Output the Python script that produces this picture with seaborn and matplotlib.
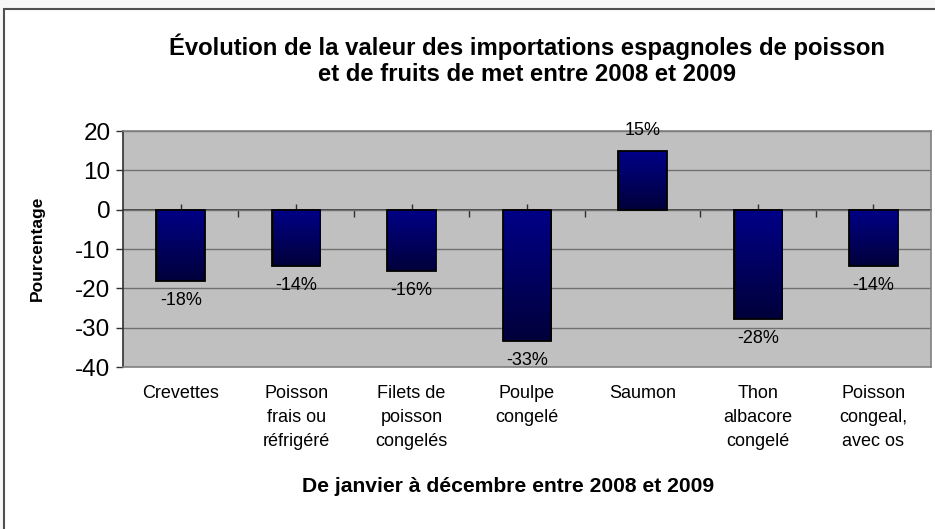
import numpy as np
import pandas as pd
import matplotlib
matplotlib.use("Agg")
import matplotlib.pyplot as plt
import seaborn as sns
from matplotlib.colors import LinearSegmentedColormap
from matplotlib.patches import Rectangle

categories = ["Crevettes", "Poisson\nfrais ou\nréfrigéré", "Filets de\npoisson\ncongelés",
              "Poulpe\ncongelé", "Saumon", "Thon\nalbacore\ncongelé", "Poisson\ncongeal,\navec os"]
values = [-18.2, -14.4, -15.6, -33.4, 14.8, -27.8, -14.3]
yticks = [20, 10, 0, -10, -20, -30, -40]

title = "Évolution de la valeur des importations espagnoles de poisson\net de fruits de met entre 2008 et 2009"
xlabel = "De janvier à décembre entre 2008 et 2009"
ylabel = "Pourcentage"

sns.set_theme(style="white")
plt.rcParams['font.family'] = ['Liberation Sans', 'DejaVu Sans']
plt.rcParams['text.color'] = 'black'
plt.rcParams['xtick.labelcolor'] = 'black'
plt.rcParams['ytick.labelcolor'] = 'black'

df = pd.DataFrame({"cat": categories, "val": values})

W, H = 935, 529
fig = plt.figure(figsize=(W / 100, H / 100), dpi=100)
fig.patch.set_facecolor("#f7f7f7")
frame = Rectangle((4 / W, -0.1), 1.2, (H - 9) / H + 0.1, transform=fig.transFigure,
                  facecolor="white", edgecolor="#505050", linewidth=1.5, zorder=-10)
fig.patches.append(frame)

ax = fig.add_axes([123 / W, (H - 367) / H, 808 / W, 236 / H])
ax.set_zorder(1)
ax.set_facecolor("#c0c0c0")

sns.barplot(data=df, x="cat", y="val", ax=ax, width=0.42, color="#000080",
            edgecolor="black", linewidth=1.3, zorder=3)

ax.set_yticks(yticks)
ax.set_yticklabels([str(t) for t in yticks], fontsize=17.5, color="black")
for t in yticks:
    ax.axhline(t, color="#707070", lw=1, zorder=1)

# gradient fill on bars
cmap = LinearSegmentedColormap.from_list("navy", ["#00003a", "#000088"])
grad = np.linspace(0, 1, 256).reshape(-1, 1)
for p in list(ax.patches):
    x0, y0 = p.get_x(), p.get_y()
    w, h = p.get_width(), p.get_height()
    ylo, yhi = min(y0, y0 + h), max(y0, y0 + h)
    im = ax.imshow(grad, cmap=cmap, aspect="auto", origin="lower",
                   extent=[x0, x0 + w, ylo, yhi], zorder=3.5)
    im.set_clip_path(p)
    p.set_zorder(4)
    p.set_facecolor("none")
ax.set_aspect("auto")
ax.set_xlim(-0.5, len(categories) - 0.5)
ax.set_ylim(-40, 20)

# data labels
for i, v in enumerate(values):
    off = 5.3 if v > 0 else -5.0
    ax.text(i, v + off, f"{v:.0f}%", ha="center", va="center", fontsize=13, color="black", zorder=5)

ax.set_xlabel("")
ax.set_ylabel("")
ax.set_xticks(range(len(categories)))
ax.set_xticklabels(categories, fontsize=13, linespacing=1.55, va="top", color="black")
ax.tick_params(axis="x", length=0, pad=13)
ax.tick_params(axis="y", length=5, width=1, color="#303030", direction="out", pad=4, left=True)

for s in ["top", "right", "bottom"]:
    ax.spines[s].set_color("#808080")
    ax.spines[s].set_linewidth(1.2)
ax.spines["left"].set_color("#303030")
ax.spines["left"].set_linewidth(1.2)

# category axis at y = 0
sec = ax.secondary_xaxis(0, transform=ax.transData)
sec.set_xticks([i + 0.5 for i in range(len(categories) - 1)])
sec.set_xticklabels([])
sec.set_xticks(range(len(categories)), minor=True)
sec.tick_params(axis="x", which="major", length=5, width=1, color="#303030", direction="out")
sec.tick_params(axis="x", which="minor", length=4, width=1, color="#303030", direction="in")
sec.spines["bottom"].set_color("#303030")
sec.spines["bottom"].set_linewidth(1.2)

fig.text(527 / W, 1 - 60 / H, title, ha="center", va="center", fontsize=17.2,
         fontweight="bold", linespacing=1.15, color="black")
fig.text(508 / W, 1 - 487 / H, xlabel, ha="center", va="center", fontsize=15.2,
         fontweight="bold", color="black")
fig.text(37 / W, 1 - 248 / H, ylabel, ha="center", va="center", rotation=90, fontsize=12.5,
         fontweight="bold", color="black")

fig.savefig("out.png", dpi=100, facecolor=fig.get_facecolor())
